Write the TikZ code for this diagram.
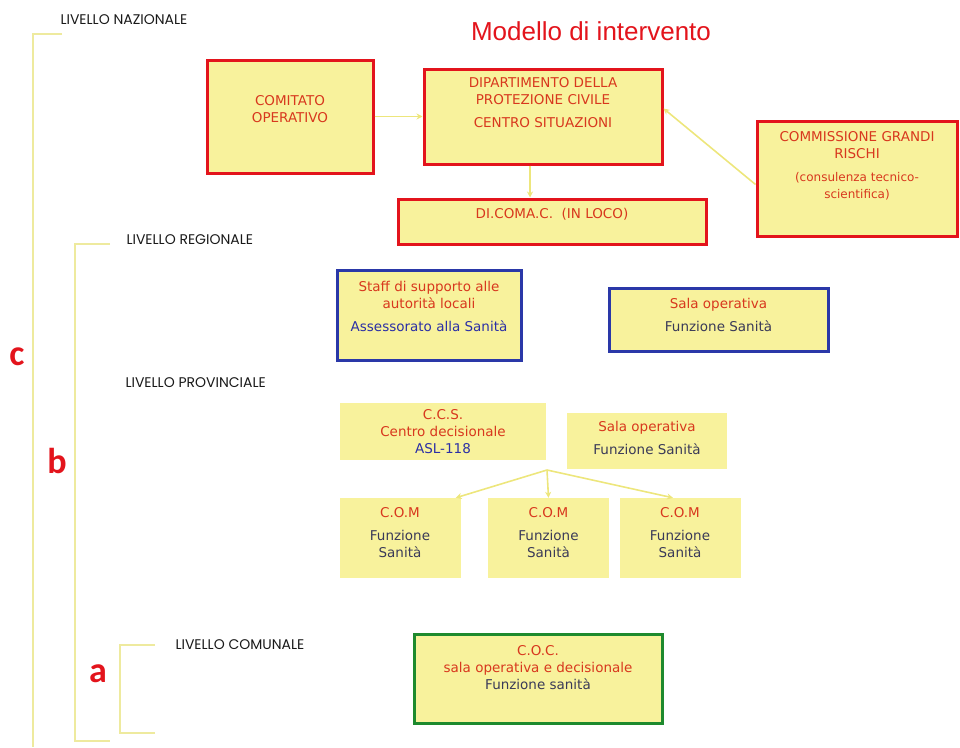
\documentclass[tikz,border=0pt]{standalone}
\usepackage{fontspec}
\setmainfont{DejaVu Sans}
\newfontfamily\titlefont{Liberation Sans}
\newfontfamily\levelfont{Poppins}
\newfontfamily\letterfont{Carlito}
\usetikzlibrary{arrows.meta}

\definecolor{boxfill}{HTML}{F8F29C}
\definecolor{boxred}{HTML}{E3141C}
\definecolor{boxblue}{HTML}{2A38A8}
\definecolor{boxgreen}{HTML}{1E8A2E}
\definecolor{txtred}{HTML}{D8381E}
\definecolor{txtblue}{HTML}{2B2FA6}
\definecolor{txtdark}{HTML}{3A3A58}
\definecolor{linkyel}{HTML}{EDE67C}
\definecolor{brkyel}{HTML}{EEEA9E}

\begin{document}
\begin{tikzpicture}[x=1pt, y=-1pt,
  box/.style={draw=boxred, line width=3pt, fill=boxfill, inner sep=0pt},
  plainbox/.style={fill=boxfill, inner sep=0pt},
  boxtext/.style={align=center, text=txtred, font=\fontsize{13.5}{17}\selectfont},
  arr/.style={-{Stealth[length=6pt,width=6pt]}, linkyel, line width=1.6pt},
  brk/.style={brkyel, line width=2pt},
  level/.style={anchor=west, font=\levelfont\fontsize{14}{14}\selectfont, text=black!90},
  letter/.style={text=boxred, font=\letterfont\bfseries\fontsize{36}{36}\selectfont}]
\useasboundingbox (0,0) rectangle (960,747);

% brackets on the left
\draw[brk] (62,34) -| (33,747);
\draw[brk] (110,244) -| (75,741) -- (110,741);
\draw[brk] (155,645) -| (120,733) -- (155,733);
\node[letter] (c) at (17,357) {c};
\node[letter] (b) at (57,461) {b};
\node[letter] (a) at (98,674) {a};

\node[level] (lnaz) at (57,20) {LIVELLO NAZIONALE};
\node[level] (lreg) at (123,240) {LIVELLO REGIONALE};
\node[level] (lprov) at (122,383) {LIVELLO PROVINCIALE};
\node[level] (lcom) at (172,645) {LIVELLO COMUNALE};

\node[text=boxred, font=\titlefont\fontsize{26}{26}\selectfont] (title) at (591,31) {Modello di intervento};

% livello nazionale
\node[box, minimum width=166, minimum height=113,
  label={[boxtext, yshift=7pt]center:{COMITATO\\OPERATIVO}}] (comitato) at (290,116.5) {};
\node[box, minimum width=238, minimum height=95,
  label={[boxtext, yshift=14pt]center:{DIPARTIMENTO DELLA\\PROTEZIONE CIVILE\\[6pt]CENTRO SITUAZIONI}}] (dpc) at (543,116.5) {};
\node[box, minimum width=308, minimum height=45,
  label={[boxtext, yshift=7pt]center:{DI.COMA.C.~~(IN LOCO)}}] (dicomac) at (552,221.5) {};
\node[box, minimum width=200, minimum height=115,
  label={[boxtext, yshift=13pt]center:{COMMISSIONE GRANDI\\RISCHI\\[6pt]{\fontsize{12}{16}\selectfont(consulenza tecnico-}\\{\fontsize{12}{16}\selectfont scientifica)}}}] (cgr) at (857,178.5) {};

\draw[arr] (comitato) -- (dpc);
\draw[arr] ([xshift=-13pt]dpc.south) -- ([xshift=-13pt]dpc.south |- dicomac.north);
\draw[arr] ([yshift=-6pt]cgr.west) -- ([yshift=8pt]dpc.east);

% livello regionale
\node[box, draw=boxblue, minimum width=184, minimum height=90,
  label={[boxtext, yshift=9pt]center:{Staff di supporto alle\\autorit\`a locali\\[6pt]\textcolor{txtblue}{Assessorato alla Sanit\`a}}}] (staff) at (429,315) {};
\node[box, draw=boxblue, minimum width=219, minimum height=63,
  label={[boxtext, yshift=5pt]center:{Sala operativa\\[6pt]\textcolor{txtdark}{Funzione Sanit\`a}}}] (salareg) at (718.5,319.5) {};

% livello provinciale
\node[plainbox, minimum width=206, minimum height=57,
  label={[boxtext, yshift=0pt]center:{C.C.S.\\Centro decisionale\\\textcolor{txtblue}{ASL-118}}}] (ccs) at (443,431.5) {};
\node[plainbox, minimum width=160, minimum height=56,
  label={[boxtext, yshift=3pt]center:{Sala operativa\\[6pt]\textcolor{txtdark}{Funzione Sanit\`a}}}] (salaprov) at (647,441) {};
\foreach \n/\x in {com1/400, com2/548.5, com3/680}
  \node[plainbox, minimum width=121, minimum height=80,
    label={[boxtext, yshift=5pt]center:{C.O.M\\[6pt]\textcolor{txtdark}{Funzione}\\\textcolor{txtdark}{Sanit\`a}}}] (\n) at (\x,538) {};

\coordinate (fork) at (547,470);
\draw[arr] (fork) -- ([xshift=-5pt]com1.north east);
\draw[arr] (fork) -- (com2.north);
\draw[arr] (fork) -- ([xshift=-7pt]com3.north);

% livello comunale
\node[box, draw=boxgreen, minimum width=248, minimum height=89,
  label={[boxtext, yshift=11pt]center:{C.O.C.\\sala operativa e decisionale\\\textcolor{txtdark}{Funzione sanit\`a}}}] (coc) at (538,678.5) {};
\end{tikzpicture}
\end{document}
